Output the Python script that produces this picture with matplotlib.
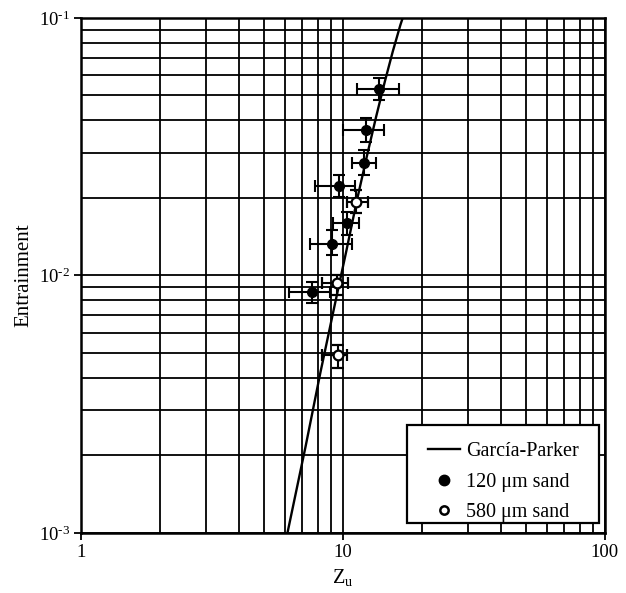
import matplotlib
matplotlib.use("Agg")
import matplotlib.pyplot as plt
from matplotlib.ticker import LogLocator, FixedLocator, NullFormatter
from matplotlib.lines import Line2D
from matplotlib.patches import Rectangle
import numpy as np

plt.rcParams['font.family'] = ['Liberation Serif', 'DejaVu Serif']
plt.rcParams['mathtext.fontset'] = 'custom'
plt.rcParams['mathtext.rm'] = 'Liberation Serif'
plt.rcParams['mathtext.it'] = 'Liberation Serif:italic'
plt.rcParams['mathtext.bf'] = 'Liberation Serif:bold'

# García-Parker curve
gp_z = [6.15, 7.2, 8.2, 9.25, 10.3, 11.3, 12.35, 13.4, 14.45, 15.5, 16.55, 17.0]
gp_e = [0.00101, 0.00217, 0.0042, 0.00749, 0.01246, 0.01957, 0.0292, 0.0416, 0.0567, 0.0743, 0.0937, 0.1019]

# 120 um sand
s120_z = [13.7, 12.24, 12.02, 9.65, 10.36, 9.08, 7.61]
s120_e = [0.0530, 0.0367, 0.0274, 0.0223, 0.0160, 0.01325, 0.00863]
s120_zlo = [11.3, 10.0, 10.82, 7.82, 9.16, 7.48, 6.22]
s120_zhi = [16.35, 14.33, 13.36, 11.11, 11.5, 10.82, 8.92]
s120_elo = [0.0481, 0.033, 0.0246, 0.0202, 0.0143, 0.012, 0.00782]
s120_ehi = [0.0585, 0.041, 0.0307, 0.0246, 0.0176, 0.015, 0.00944]

# 580 um sand
s580_z = [11.21, 9.48, 9.56]
s580_e = [0.0193, 0.00936, 0.00491]
s580_zlo = [10.36, 8.31, 8.31]
s580_zhi = [12.46, 10.45, 10.36]
s580_elo = [0.0175, 0.0084, 0.00438]
s580_ehi = [0.0215, 0.0100, 0.00537]

x_ticks = [1, 10, 100]
x_ticklabels = ['1', '10', '100']
y_ticks = [1e-3, 1e-2, 1e-1]
y_ticklabels = [r'$10^{\text{-}3}$', r'$10^{\text{-}2}$', r'$10^{\text{-}1}$']
legend_labels = ['García-Parker', '120 μm sand', '580 μm sand']

fig = plt.figure(figsize=(6.26, 5.93), dpi=100)
ax = fig.add_axes([0.1294, 0.1012, 0.837, 0.8685])
ax.set_xscale('log')
ax.set_yscale('log')
ax.set_xlim(1, 100)
ax.set_ylim(1e-3, 1e-1)

# grid
ax.xaxis.set_major_locator(FixedLocator(x_ticks))
ax.yaxis.set_major_locator(FixedLocator(y_ticks))
ax.xaxis.set_minor_locator(LogLocator(base=10, subs=np.arange(2, 10)))
ax.yaxis.set_minor_locator(LogLocator(base=10, subs=np.arange(2, 10)))
ax.xaxis.set_minor_formatter(NullFormatter())
ax.yaxis.set_minor_formatter(NullFormatter())
ax.grid(True, which='both', color='black', linewidth=1.3)
ax.set_axisbelow(True)

ax.set_xticklabels(x_ticklabels)
ax.set_yticklabels(y_ticklabels)
ax.tick_params(which='major', direction='out', length=5, width=1.3, labelsize=13.5,
               colors='black', pad=3)
ax.tick_params(which='minor', length=0)
for s in ax.spines.values():
    s.set_linewidth(1.8)
    s.set_color('black')

ax.plot(gp_z, gp_e, color='black', linewidth=1.7, zorder=3)

def errs(c, lo, hi):
    return [np.array(c) - np.array(lo), np.array(hi) - np.array(c)]

ax.errorbar(s120_z, s120_e, xerr=errs(s120_z, s120_zlo, s120_zhi),
            yerr=errs(s120_e, s120_elo, s120_ehi), fmt='o', color='black',
            markersize=7, markerfacecolor='black', ecolor='black', elinewidth=1.5,
            capsize=4, capthick=1.5, zorder=4)
ax.errorbar(s580_z, s580_e, xerr=errs(s580_z, s580_zlo, s580_zhi),
            yerr=errs(s580_e, s580_elo, s580_ehi), fmt='o', color='black',
            markersize=7, markerfacecolor='white', markeredgewidth=1.6, ecolor='black',
            elinewidth=1.5, capsize=4, capthick=1.5, zorder=4)

# legend frame
ax.add_patch(Rectangle((0.622, 0.0194), 0.3665, 0.1903, transform=ax.transAxes,
                       facecolor='white', edgecolor='black', linewidth=1.6, zorder=9))
hs = [Line2D([], [], color='black', linewidth=1.7),
      Line2D([], [], marker='o', linestyle='none', color='black', markersize=7.5),
      Line2D([], [], marker='o', linestyle='none', color='black', markerfacecolor='white',
             markeredgewidth=1.8, markersize=6)]
leg = ax.legend(hs, legend_labels, loc='center',
                bbox_to_anchor=(0.806, 0.099), borderaxespad=0, fontsize=14.5,
                frameon=False, handlelength=1.6, handletextpad=0.3,
                borderpad=0.0, labelspacing=0.55)
leg.set_zorder(10)

ax.set_xlabel(r'Z$_\mathregular{u}$', fontsize=14.5, labelpad=4)
ax.set_ylabel('Entrainment', fontsize=15, labelpad=3.5)

fig.savefig('out.png', dpi=100)
